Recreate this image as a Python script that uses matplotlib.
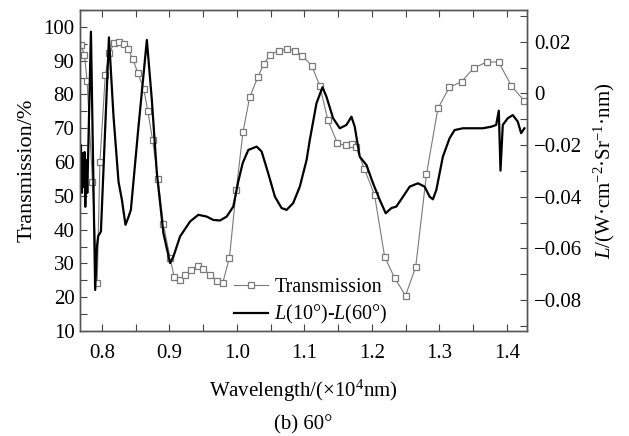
import matplotlib
matplotlib.use('Agg')
import matplotlib.pyplot as plt
from matplotlib.ticker import MultipleLocator
import numpy as np

plt.rcParams['font.family'] = ['Liberation Serif', 'DejaVu Serif']
plt.rcParams['mathtext.fontset'] = 'custom'
plt.rcParams['mathtext.rm'] = 'Liberation Serif'
plt.rcParams['mathtext.it'] = 'Liberation Serif:italic'

# transmission (%), read at the square markers
trans_wl = [0.769, 0.774, 0.778, 0.786, 0.793, 0.797, 0.805, 0.811, 0.818, 0.826,
            0.832, 0.839, 0.846, 0.853, 0.862, 0.868, 0.875, 0.883, 0.891, 0.901,
            0.907, 0.916, 0.923, 0.932, 0.942, 0.950, 0.960, 0.970, 0.979, 0.989,
            0.999, 1.009, 1.019, 1.031, 1.040, 1.049, 1.062, 1.074, 1.086, 1.097,
            1.111, 1.123, 1.135, 1.149, 1.161, 1.170, 1.176, 1.189, 1.204, 1.219,
            1.234, 1.250, 1.265, 1.281, 1.298, 1.315, 1.333, 1.351, 1.370, 1.388,
            1.407, 1.426]
trans_val = [94.7, 91.7, 84.1, 54.0, 24.2, 59.9, 85.8, 92.2, 95.2, 95.4,
             94.9, 93.4, 90.4, 86.5, 81.6, 75.1, 66.6, 55.1, 41.7, 31.6,
             26.1, 25.1, 26.6, 28.1, 29.1, 28.3, 26.6, 24.9, 24.2, 31.7,
             51.6, 68.8, 79.2, 85.1, 89.1, 91.7, 93.0, 93.4, 93.0, 91.4,
             88.5, 82.5, 72.3, 65.6, 64.9, 65.4, 64.6, 58.0, 50.3, 32.0,
             25.6, 20.5, 28.9, 56.4, 75.9, 82.1, 83.8, 87.8, 89.6, 89.6,
             82.5, 78.1]

# L(10deg)-L(60deg) radiance difference
rad_wl = [0.7679, 0.7689, 0.7704, 0.7713, 0.7728, 0.7743, 0.7753, 0.7768, 0.7783,
          0.7837, 0.7900, 0.7926, 0.7945, 0.7985, 0.8104, 0.8172, 0.8246, 0.8296,
          0.8349, 0.8389, 0.8429, 0.8537, 0.8666, 0.8740, 0.8814, 0.8911, 0.9010,
          0.9059, 0.9158, 0.9306, 0.9429, 0.9553, 0.9651, 0.9750, 0.9849, 0.9947,
          1.0020, 1.0086, 1.0169, 1.0293, 1.0367, 1.0464, 1.0564, 1.0663, 1.0737,
          1.0834, 1.0933, 1.1033, 1.1081, 1.1180, 1.1269, 1.1328, 1.1426, 1.1525,
          1.1624, 1.1698, 1.1747, 1.1821, 1.1920, 1.2018, 1.2117, 1.2206, 1.2290,
          1.2364, 1.2462, 1.2561, 1.2684, 1.2783, 1.2857, 1.2905, 1.2956, 1.3053,
          1.3152, 1.3226, 1.3349, 1.3497, 1.3645, 1.3769, 1.3843, 1.3882, 1.3907,
          1.3941, 1.4015, 1.4089, 1.4163, 1.4213, 1.4262]
rad_val = [-0.0330, -0.0200, -0.0385, -0.0231, -0.0362, -0.0227, -0.0439, -0.0258, -0.0385,
           0.0239, -0.0761, -0.0593, -0.0552, -0.0535, 0.0217, -0.0090, -0.0342, -0.0412,
           -0.0509, -0.0482, -0.0451, -0.0142, 0.0207, -0.0026, -0.0309, -0.0541, -0.0657,
           -0.0632, -0.0554, -0.0496, -0.0470, -0.0477, -0.0490, -0.0492, -0.0477, -0.0438,
           -0.0342, -0.0270, -0.0219, -0.0206, -0.0225, -0.0309, -0.0400, -0.0444, -0.0451,
           -0.0425, -0.0361, -0.0258, -0.0180, -0.0038, 0.0024, -0.0013, -0.0096, -0.0135,
           -0.0122, -0.0090, -0.0129, -0.0245, -0.0277, -0.0348, -0.0412, -0.0464, -0.0444,
           -0.0438, -0.0400, -0.0361, -0.0348, -0.0361, -0.0400, -0.0410, -0.0374, -0.0245,
           -0.0174, -0.0142, -0.0135, -0.0135, -0.0135, -0.0129, -0.0122, -0.0067, -0.0299,
           -0.0122, -0.0096, -0.0084, -0.0109, -0.0154, -0.0135]

fs = 15
fig = plt.figure(figsize=(6.29, 4.36), dpi=100)
ax = fig.add_axes([80/629, 1 - 331/436, 447/629, 321/436])
ax2 = ax.twinx()

l1, = ax.plot(trans_wl, trans_val, color='#7a7a7a', lw=0.8, marker='s', ms=5,
              mfc='white', mec='#7a7a7a', mew=0.9, label='Transmission')
l2, = ax2.plot(rad_wl, rad_val, color='black', lw=1.6,
               label=r'$L$(10°)-$L$(60°)')

ax.set_xlim(0.7675, 1.43)
ax.set_ylim(10, 105)
ax2.set_ylim(-0.092, 0.0323)

ax.xaxis.set_major_locator(MultipleLocator(0.1))
ax.xaxis.set_minor_locator(MultipleLocator(0.05))
ax.yaxis.set_major_locator(MultipleLocator(10))
ax.yaxis.set_minor_locator(MultipleLocator(5))
ax2.yaxis.set_major_locator(MultipleLocator(0.02))
ax2.yaxis.set_minor_locator(MultipleLocator(0.01))

ax.xaxis.set_major_formatter(plt.FuncFormatter(lambda v, p: f'{v:.1f}'))
ax2.yaxis.set_major_formatter(plt.FuncFormatter(
    lambda v, p: '0' if abs(v) < 1e-9 else f'{v:.2f}'.replace('-', '\u2212')))

ax.tick_params(axis='x', which='both', direction='in', top=True, labelsize=fs, pad=9)
ax.tick_params(axis='y', which='both', direction='in', right=False, labelsize=fs, pad=4)
ax2.tick_params(axis='y', which='both', direction='in', labelsize=fs, pad=5)
for a in (ax, ax2):
    a.tick_params(which='major', length=5, width=0.8, color='#444444')
    a.tick_params(which='minor', length=5, width=0.8, color='#444444')
    for s in a.spines.values():
        s.set_color('#555555')
        s.set_linewidth(1.0)

ax.set_ylabel('Transmission/%', fontsize=fs + 1, labelpad=5)
ax2.set_ylabel(r'$L$/(W·cm$^{-2}$·Sr$^{-1}$·nm)', fontsize=fs, labelpad=7)
ax.set_xlabel(r'Wavelength/(×10$^{4}$nm)', fontsize=fs, labelpad=11)
fig.text(0.5 * (80 + 527) / 629, 1 - 425/436, '(b) 60°', fontsize=fs,
         ha='center', va='center')

ax.legend([l1, l2], [l1.get_label(), l2.get_label()], loc='lower left',
          bbox_to_anchor=(0.345, 0.015), frameon=False, fontsize=fs - 0.5,
          handlelength=1.7, handletextpad=0.3, labelspacing=0.3,
          borderpad=0, borderaxespad=0)

fig.savefig('out.png', dpi=100)
